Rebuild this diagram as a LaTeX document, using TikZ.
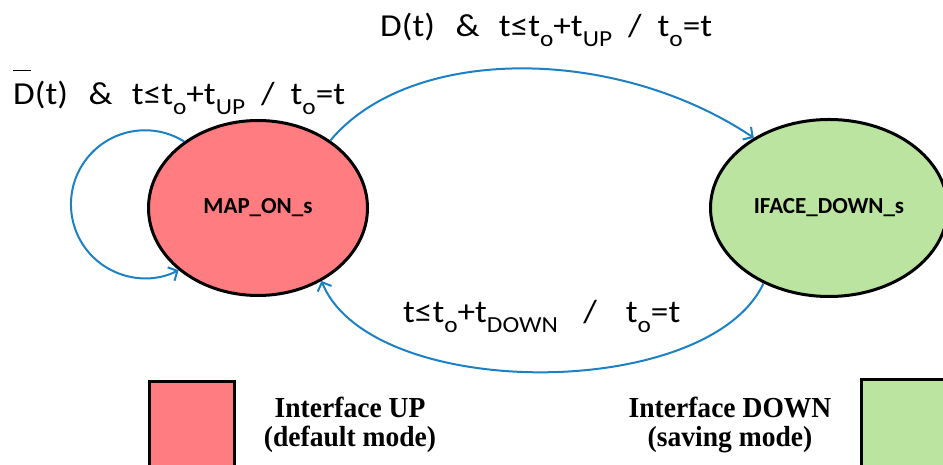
\documentclass[tikz,border=0pt]{standalone}
\usepackage{fontspec}
\setmainfont{Carlito}
\newfontfamily\lblfont[FakeStretch=1.1]{Carlito}
\newfontfamily\legfont[FakeStretch=0.95]{Liberation Serif}
\usetikzlibrary{shapes.geometric,arrows.meta}
\definecolor{redfill}{RGB}{255,124,128}
\definecolor{greenfill}{RGB}{186,228,160}
\definecolor{arrowblue}{RGB}{28,128,196}
\newcommand\sbs[1]{\raisebox{-0.3em}{\fontsize{23}{23}\selectfont #1}}
\newcommand\gap[1]{\hspace{#1em}}
\newcommand\Dbar{\rlap{\raisebox{1.05em}{\rule{0.55em}{1.8pt}}}D}
\begin{document}
\begin{tikzpicture}[x=1pt,y=1pt,
  statenode/.style={ellipse, draw=black, line width=3pt, inner sep=0pt,
    font=\bfseries\fontsize{23}{23}\selectfont},
  trans/.style={draw=arrowblue, line width=2pt, -{Straight Barb[length=7pt,width=15pt]}},
  lbl/.style={font=\lblfont\fontsize{32}{32}\selectfont, inner sep=0pt, anchor=base west},
  legbox/.style={draw=black, line width=3pt, inner sep=0pt, minimum width=85pt, minimum height=100pt},
  legtext/.style={font=\legfont\bfseries\fontsize{29}{30}\selectfont, align=center, inner sep=0pt, anchor=base}
]
\useasboundingbox (0,0) rectangle (943,465);

\node[statenode, fill=redfill, minimum width=219pt, minimum height=175pt] (mapon) at (258,257) {MAP\_ON\_s};
\node[statenode, fill=greenfill, minimum width=237pt, minimum height=177pt] (iface) at (829,257) {IFACE\_DOWN\_s};

% self loop
\draw[trans] (mapon.138) arc[start angle=58, end angle=297, radius=74];
% MAP -> IFACE
\draw[trans] (mapon.43) .. controls (410,420) and (615,420) .. (iface.137);
% IFACE -> MAP
\draw[trans] (iface.229) .. controls (708,63) and (371,63) .. (mapon.311);

% labels
\node[lbl] (lloop) at (13,360) {\Dbar(t)\gap{0.65}\&\gap{0.6}t≤t\sbs{o}+t\sbs{UP}\gap{0.5}/\gap{0.5}t\sbs{o}=t};
\node[lbl] (ltop) at (380,428) {D(t)\gap{0.65}\&\gap{0.6}t≤t\sbs{o}+t\sbs{UP}\gap{0.5}/\gap{0.5}t\sbs{o}=t};
\node[lbl] (lbot) at (403,142) {t≤t\sbs{o}+t\sbs{DOWN}\gap{0.8}/\gap{0.9}t\sbs{o}=t};

% legend
\node[legbox, fill=redfill, anchor=north west] (legup) at (148,85) {};
\node[legbox, fill=greenfill, anchor=north west] (legdown) at (860,87) {};
\node[legtext] (tup1) at (350,47) {Interface UP};
\node[legtext] (tup2) at (350,18) {(default mode)};
\node[legtext] (tdn1) at (730,47) {Interface DOWN};
\node[legtext] (tdn2) at (730,18) {(saving mode)};
\end{tikzpicture}
\end{document}
